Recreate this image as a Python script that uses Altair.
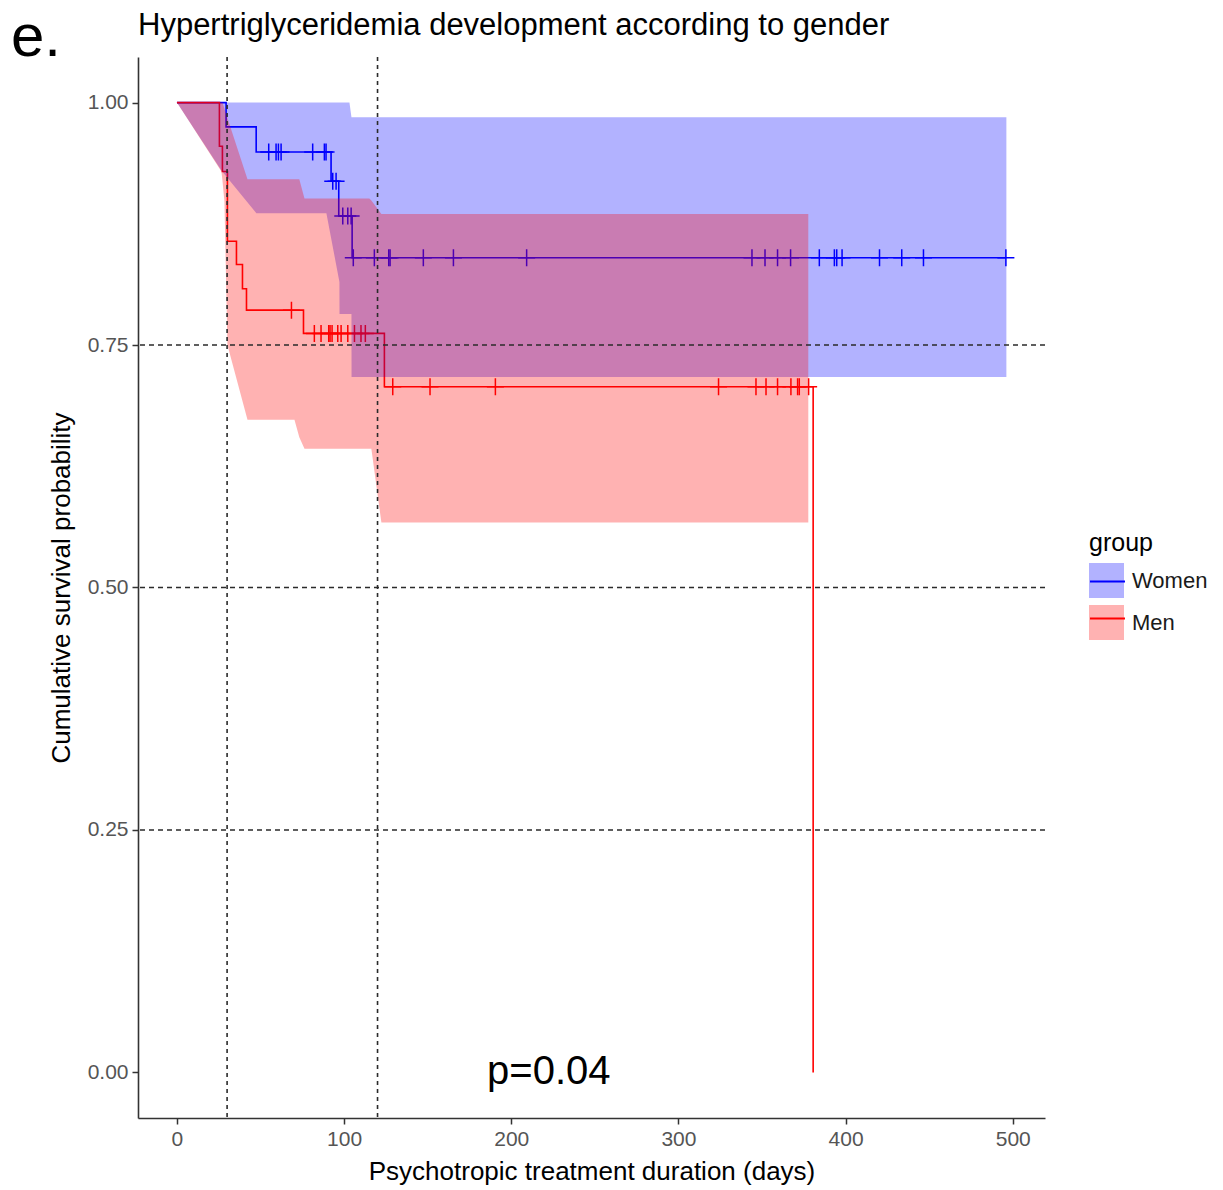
import altair as alt
import pandas as pd

# ---------------- data ----------------
groups = ["Women", "Men"]
colors = ["#0000FF", "#FF0000"]

# Kaplan-Meier step curves (time in days, survival probability)
women_time = [0, 29.4, 47.4, 92.2, 96.8, 104.8, 495.9]
women_surv = [1.0, 0.975, 0.949, 0.919, 0.883, 0.840, 0.840]
men_time = [0, 25.4, 27.2, 30.2, 35.6, 39.2, 41.6, 75.7, 124.1, 380.6]
men_surv = [1.0, 0.955, 0.929, 0.857, 0.833, 0.808, 0.786, 0.762, 0.707, 0.0]

# censoring marks
women_cens_time = [54.9, 59.3, 60.7, 62.3, 81.2, 88.2, 89.2, 93.2, 95.2, 99.2, 102.2, 104.2,
                   105.5, 118.1, 126.7, 127.5, 147.4, 165.4, 209.2, 344.0, 351.8, 359.3, 367.1,
                   384.3, 393.3, 394.7, 397.9, 420.3, 433.6, 446.6, 495.9]
women_cens_surv = [0.949, 0.949, 0.949, 0.949, 0.949, 0.949, 0.949, 0.919, 0.919, 0.883, 0.883, 0.883,
                   0.840, 0.840, 0.840, 0.840, 0.840, 0.840, 0.840, 0.840, 0.840, 0.840, 0.840,
                   0.840, 0.840, 0.840, 0.840, 0.840, 0.840, 0.840, 0.840]
men_cens_time = [68.5, 82.2, 86.2, 90.8, 91.6, 92.8, 96.2, 98.2, 102.2, 106.2, 110.1, 112.7,
                 129.1, 151.4, 190.5, 324.0, 346.4, 352.4, 359.3, 367.3, 371.3, 372.3, 377.9]
men_cens_surv = [0.786, 0.762, 0.762, 0.762, 0.762, 0.762, 0.762, 0.762, 0.762, 0.762, 0.762, 0.762,
                 0.707, 0.707, 0.707, 0.707, 0.707, 0.707, 0.707, 0.707, 0.707, 0.707, 0.707]

# confidence bands (outline vertices)
women_ci_time = [0, 26.6, 47.5, 89.4, 97.2, 97.25, 103.2, 104.4, 104.45, 496.2]
women_ci_low = [1.0, 0.93, 0.886, 0.886, 0.815, 0.782, 0.782, 0.782, 0.717, 0.717]
women_ci_high = [1.0, 1.0, 1.0, 1.0, 1.0, 1.0, 1.0, 0.985, 0.985, 0.985]
men_ci_time = [0, 26.6, 27.2, 28.4, 30.2, 42.2, 70.3, 73.2, 76.3, 115.1, 116.3, 122.3, 377.7]
men_ci_low = [1.0, 0.929, 0.92, 0.898, 0.75, 0.673, 0.673, 0.655, 0.643, 0.643, 0.643, 0.567, 0.567]
men_ci_high = [1.0, 1.0, 1.0, 0.994, 0.984, 0.921, 0.921, 0.921, 0.901, 0.901, 0.899, 0.885, 0.885]

hline_vals = [0.25, 0.5, 0.75]
vline_vals = [30, 120]
x_ticks = [0, 100, 200, 300, 400, 500]
y_ticks = [0.0, 0.25, 0.5, 0.75, 1.0]

title_text = "Hypertriglyceridemia development according to gender"
panel_text = "e."
pval_text = "p=0.04"
pval_x = 185.5
pval_y = 0.0
x_title = "Psychotropic treatment duration (days)"
y_title = "Cumulative survival probability"

# ---------------- tables ----------------
line_df = pd.DataFrame({
    "group": ["Women"] * len(women_time) + ["Men"] * len(men_time),
    "t": women_time + men_time,
    "s": women_surv + men_surv,
    "ord": list(range(len(women_time))) + list(range(len(men_time))),
})
cens_df = pd.DataFrame({
    "group": ["Women"] * len(women_cens_time) + ["Men"] * len(men_cens_time),
    "t": women_cens_time + men_cens_time,
    "s": women_cens_surv + men_cens_surv,
})
women_ribbon_df = pd.DataFrame({"group": ["Women"] * len(women_ci_time), "t": women_ci_time,
                                "lo": women_ci_low, "hi": women_ci_high})
men_ribbon_df = pd.DataFrame({"group": ["Men"] * len(men_ci_time), "t": men_ci_time,
                              "lo": men_ci_low, "hi": men_ci_high})
hline_df = pd.DataFrame({"v": hline_vals})
vline_df = pd.DataFrame({"v": vline_vals})

FONT = "Liberation Sans"

x_scale = alt.Scale(domain=[-23.3, 519.3], nice=False, zero=False)
y_scale = alt.Scale(domain=[-0.047, 1.047], nice=False, zero=False)
x_axis = alt.Axis(values=x_ticks, title=x_title, labelPadding=4, titlePadding=9)
y_axis = alt.Axis(values=y_ticks, format=".2f", title=y_title, labelPadding=4, titlePadding=13)

common_legend = dict(
    orient="none", legendX=951, direction="vertical",
    symbolSize=1225, titleFont=FONT, titleFontSize=25, titleFontWeight="normal",
    labelFont=FONT, labelFontSize=22, titlePadding=7, rowPadding=7,
    labelOffset=8, padding=0,
)
fill_legend = alt.Legend(title="group", legendY=474, symbolType="square", symbolOpacity=0.3,
                         symbolStrokeWidth=0, titleColor="#000000", labelColor="#1a1a1a",
                         **common_legend)
stroke_legend = alt.Legend(title=None, legendY=506, symbolType="stroke", symbolStrokeWidth=2,
                           labelExpr="''", **common_legend)

X = alt.X("t:Q", scale=x_scale, axis=x_axis)
Y = alt.Y("s:Q", scale=y_scale, axis=y_axis)
stroke_enc = alt.Stroke("group:N", sort=groups, scale=alt.Scale(range=colors), legend=stroke_legend)
fill_enc = alt.Fill("group:N", scale=alt.Scale(domain=groups, range=colors), legend=fill_legend)

lines = alt.Chart(line_df).mark_line(interpolate="step-after", strokeWidth=1.6).encode(
    x=X, y=Y, stroke=stroke_enc, order="ord:Q"
)
cens = alt.Chart(cens_df).mark_point(
    shape="M-1,0H1M0,-1V1", filled=False, size=289, strokeWidth=1.5, opacity=1
).encode(x=X, y=Y, stroke=stroke_enc)


def ribbon(df):
    return alt.Chart(df).mark_area(opacity=0.3, interpolate="linear").encode(
        x=X,
        y=alt.Y("lo:Q", scale=y_scale, axis=y_axis),
        y2="hi:Q",
        fill=fill_enc,
    )


hlines = alt.Chart(hline_df).mark_rule(color="#2b2b2b", strokeWidth=1.6, strokeDash=[5, 4]).encode(
    y=alt.Y("v:Q", scale=y_scale, axis=y_axis)
)
vlines = alt.Chart(vline_df).mark_rule(color="#2b2b2b", strokeWidth=1.6, strokeDash=[4, 4]).encode(
    x=alt.X("v:Q", scale=x_scale, axis=x_axis)
)

pval = alt.Chart(pd.DataFrame({"label": [pval_text], "t": [pval_x], "s": [pval_y]})).mark_text(
    font=FONT, fontSize=40, align="left", baseline="middle", color="#000000"
).encode(x=X, y=Y, text="label:N")

title = alt.Chart(pd.DataFrame({"label": [title_text]})).mark_text(
    font=FONT, fontSize=31, align="left", baseline="alphabetic", color="#000000"
).encode(x=alt.value(0), y=alt.value(-22), text="label:N")

panel = alt.Chart(pd.DataFrame({"label": [panel_text]})).mark_text(
    font=FONT, fontSize=60, align="left", baseline="alphabetic", color="#000000"
).encode(x=alt.value(-127), y=alt.value(-1), text="label:N")

chart = alt.layer(
    lines, cens, ribbon(women_ribbon_df), ribbon(men_ribbon_df), hlines, vlines, pval, title, panel
).properties(
    width=907, height=1061,
    autosize=alt.AutoSizeParams(type="none"),
    padding={"left": 138, "top": 57, "right": 178, "bottom": 72},
    background="white",
).configure_view(stroke=None).configure_axis(
    grid=False, domainColor="#333333", domainWidth=1.6, tickColor="#333333", tickWidth=1.5,
    tickSize=6, labelColor="#555555", labelFont=FONT, labelFontSize=21,
    titleFont=FONT, titleFontSize=26, titleFontWeight="normal", titleColor="#000000",
)

chart.save("out.html", embed_options={"renderer": "svg", "actions": False})
